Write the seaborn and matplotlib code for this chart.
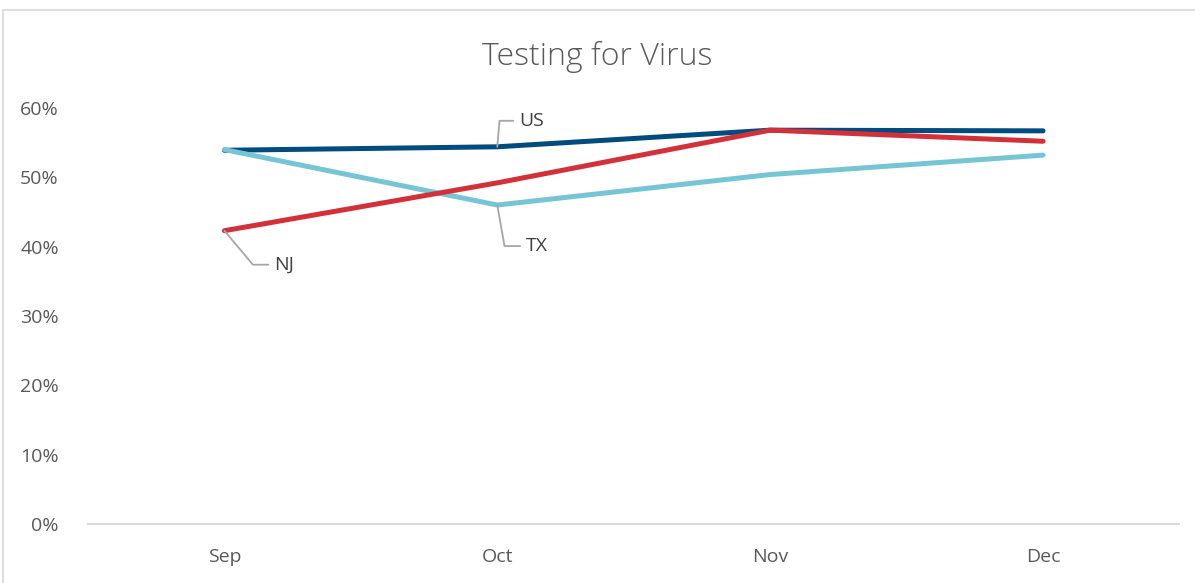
import pandas as pd
import matplotlib.pyplot as plt
import seaborn as sns
from matplotlib.patches import Rectangle
from matplotlib.ticker import PercentFormatter

months = ['Sep', 'Oct', 'Nov', 'Dec']
us = [0.539, 0.544, 0.568, 0.567]
tx = [0.540, 0.460, 0.504, 0.532]
nj = [0.423, 0.492, 0.568, 0.552]
series_names = ['US', 'TX', 'NJ']
colors = {'US': '#004C7F', 'TX': '#76C5D5', 'NJ': '#D3313A'}

sns.set_theme(style='white')
plt.rcParams['font.family'] = ['Open Sans', 'DejaVu Sans']

df = pd.DataFrame({
    'month': months * 3,
    'value': us + tx + nj,
    'series': sum([[s] * len(months) for s in series_names], []),
})
df['x'] = df['month'].map({m: i for i, m in enumerate(months)})

fig = plt.figure(figsize=(11.95, 5.83), dpi=100)
ax = fig.add_axes([0.0736, 0.1012, 0.9134, 0.7136])

# outer chart border (partially cropped in the original)
fig.patches.append(Rectangle((3 / 1195, -0.1), 1.2, 1 - 10 / 583 + 0.1,
                             transform=fig.transFigure, fill=False,
                             edgecolor='#D9D9D9', linewidth=1.2))

# stacking order as in the original: US below, NJ on top
for name in ['US', 'TX', 'NJ']:
    sns.lineplot(data=df[df['series'] == name], x='x', y='value',
                 color=colors[name], linewidth=3.6, ax=ax,
                 solid_capstyle='round', legend=False)

ax.set_xlim(-0.5, 3.5)
ax.set_ylim(0, 0.6)
ax.set_xticks(range(len(months)))
ax.set_xticklabels(months)
ax.set_yticks([0, 0.1, 0.2, 0.3, 0.4, 0.5, 0.6])
ax.yaxis.set_major_formatter(PercentFormatter(1.0, decimals=0))
ax.tick_params(axis='both', colors='#595959', labelsize=14, length=0)
ax.tick_params(axis='x', pad=17)
ax.tick_params(axis='y', pad=21)
ax.set_xlabel('')
ax.set_ylabel('')
for side in ['top', 'right', 'left']:
    ax.spines[side].set_visible(False)
ax.spines['bottom'].set_color('#D9D9D9')
ax.spines['bottom'].set_linewidth(1.5)

fig.text(0.5, 1 - 57 / 583, 'Testing for Virus', ha='center', va='center',
         fontsize=23, color='#595959', fontweight='light')

# data labels with leader lines
leader = dict(arrowstyle='-', color='#A6A6A6', lw=1.3, shrinkA=2, shrinkB=0)
ax.annotate('US', xy=(1, us[1]), xytext=(22, 26), textcoords='offset pixels',
            ha='left', va='center', fontsize=14, color='#404040',
            arrowprops=dict(leader, connectionstyle='angle,angleA=0,angleB=85,rad=0'))
ax.annotate('TX', xy=(1, tx[1]), xytext=(29, -41), textcoords='offset pixels',
            ha='left', va='center', fontsize=14, color='#404040',
            arrowprops=dict(leader, connectionstyle='angle,angleA=0,angleB=-80,rad=0'))
ax.annotate('NJ', xy=(0, nj[0]), xytext=(50, -34), textcoords='offset pixels',
            ha='left', va='center', fontsize=14, color='#404040',
            arrowprops=dict(leader, connectionstyle='angle,angleA=0,angleB=-50,rad=0'))

fig.savefig('out.png', dpi=100, facecolor='white')
